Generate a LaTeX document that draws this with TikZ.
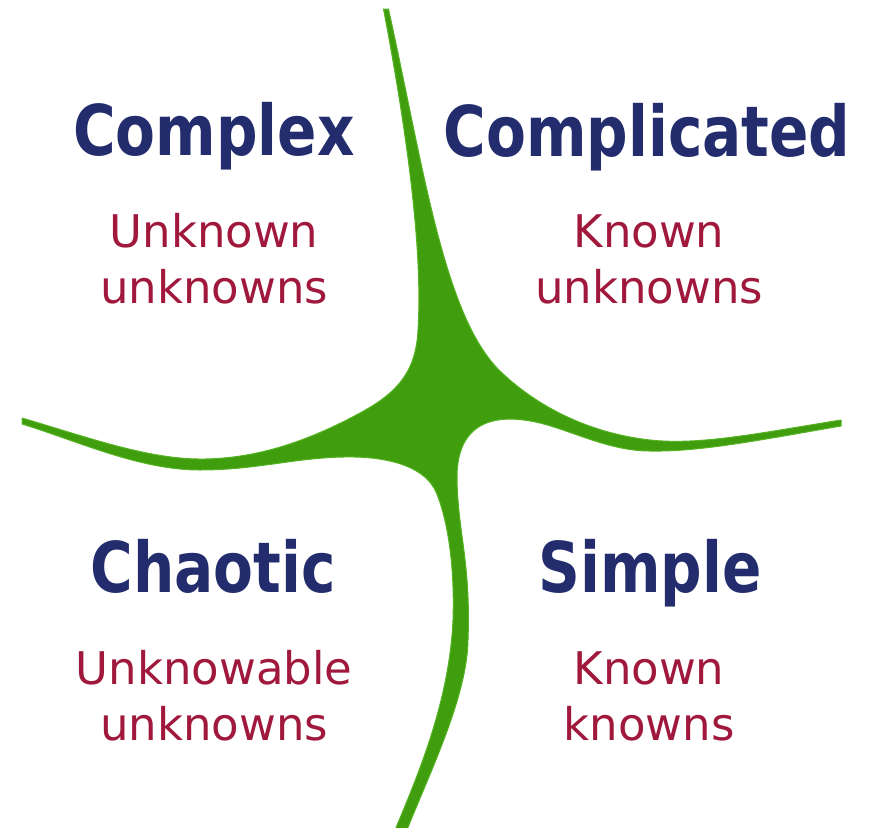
\documentclass[tikz,border=0pt]{standalone}
\usepackage{fontspec}
\setmainfont{DejaVu Sans}
\newfontfamily\headfont[FakeStretch=0.83]{DejaVu Sans Bold}
\definecolor{navy}{RGB}{35,45,110}
\definecolor{crimson}{RGB}{160,25,60}
\definecolor{leaf}{RGB}{64,158,14}
\definecolor{leafedge}{RGB}{86,180,36}
\tikzstyle{quadrant}=[inner sep=0, anchor=base, text=navy, font=\headfont\fontsize{70}{70}\selectfont]
\tikzstyle{knowledge}=[inner sep=0, anchor=base, align=center, text=crimson, font=\fontsize{45}{56}\selectfont]
\tikzstyle{spine}=[fill=leaf, draw=leafedge, line width=1pt, line join=round]
\begin{document}
\begin{tikzpicture}[x=1pt, y=-1pt]
\useasboundingbox (0,0) rectangle (872,827);

\draw[spine] (388.5,9)
  .. controls (424,170) and (444,316) .. (500,371)
  .. controls (530,400) and (580,432) .. (650,440)
  .. controls (700,445.5) and (760,433) .. (841,420) -- (841,426)
  .. controls (760,440) and (700,452) .. (650,451)
  .. controls (610,451) and (575,432) .. (540,423)
  .. controls (485,410) and (458,430) .. (457,475)
  .. controls (457,530) and (471,560) .. (468,640)
  .. controls (467,700) and (426,780) .. (403,840) -- (391,840)
  .. controls (411,790) and (449,710) .. (453,620)
  .. controls (455,560) and (446,515) .. (436,492)
  .. controls (426,469) and (395,458) .. (355,457)
  .. controls (300,456) and (260,470) .. (200,470)
  .. controls (140,470) and (80,442) .. (22,424) -- (22,418)
  .. controls (90,438) and (150,460) .. (205,459)
  .. controls (260,458) and (310,440) .. (360,413)
  .. controls (397,393) and (416,372) .. (418,330)
  .. controls (421,280) and (418,190) .. (383.5,9) -- cycle;

\node[quadrant] (complex) at (214,155) {Complex};
\node[knowledge] (complex-text) at (214,303) {Unknown\\unknowns};

\node[quadrant] (complicated) at (647,156) {Complicated};
\node[knowledge] (complicated-text) at (649,303) {Known\\unknowns};

\node[quadrant] (chaotic) at (213,592) {Chaotic};
\node[knowledge] (chaotic-text) at (214,740) {Unknowable\\unknowns};

\node[quadrant] (simple) at (650,592) {Simple};
\node[knowledge] (simple-text) at (649,740) {Known\\knowns};
\end{tikzpicture}
\end{document}
